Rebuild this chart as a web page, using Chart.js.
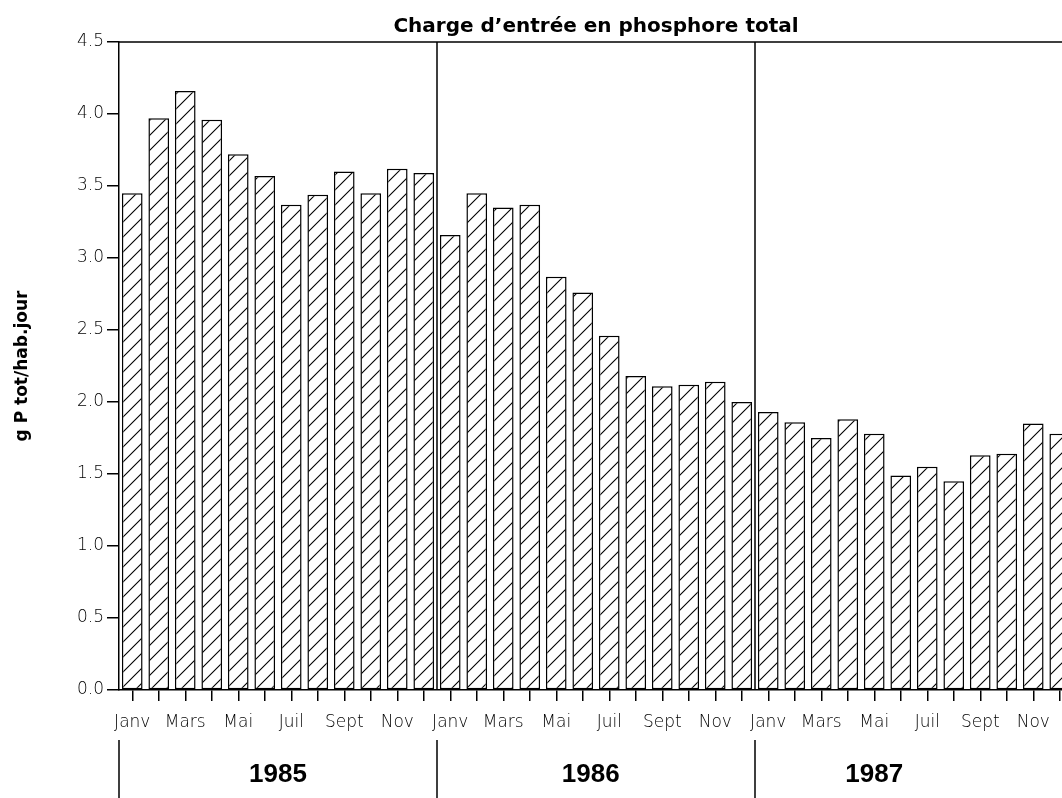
<!DOCTYPE html>
<html>
<head>
<meta charset="utf-8">
<script src="https://cdn.jsdelivr.net/npm/chart.js@4.4.1/dist/chart.umd.min.js"></script>
<style>
  html, body { margin: 0; padding: 0; background: #fff; overflow: hidden; }
  canvas { display: block; }
</style>
</head>
<body>
<canvas id="myChart" width="1080" height="798"></canvas>
<script>
// données (g P tot / hab.jour)
const years = ['1985', '1986', '1987'];
const months = ['Janv', 'Févr', 'Mars', 'Avr', 'Mai', 'Juin', 'Juil', 'Août', 'Sept', 'Oct', 'Nov', 'Déc'];
const values1985 = [3.45, 3.97, 4.16, 3.96, 3.72, 3.57, 3.37, 3.44, 3.60, 3.45, 3.62, 3.59];
const values1986 = [3.16, 3.45, 3.35, 3.37, 2.87, 2.76, 2.46, 2.18, 2.11, 2.12, 2.14, 2.00];
const values1987 = [1.93, 1.86, 1.75, 1.88, 1.78, 1.49, 1.55, 1.45, 1.63, 1.64, 1.85, 1.78];
const shownMonths = ['Janv', 'Mars', 'Mai', 'Juil', 'Sept', 'Nov'];

const labels = [];
years.forEach(y => months.forEach(m => labels.push(m + ' ' + y)));
const values = [...values1985, ...values1986, ...values1987];

const canvas = document.getElementById('myChart');
const ctx = canvas.getContext('2d');

// motif hachuré "/"
function hatch() {
    const c = document.createElement('canvas');
    c.width = 15;
    c.height = 15;
    const g = c.getContext('2d');
    g.fillStyle = '#fff';
    g.fillRect(0, 0, 15, 15);
    g.strokeStyle = '#000';
    g.lineWidth = 1.1;
    g.beginPath();
    g.moveTo(0, 15); g.lineTo(15, 0);
    g.moveTo(-2, 2); g.lineTo(2, -2);
    g.moveTo(13, 17); g.lineTo(17, 13);
    g.stroke();
    return ctx.createPattern(c, 'repeat');
}

// cadre du haut, séparations et années
const yearFrame = {
    id: 'yearFrame',
    afterDraw(chart) {
        const { ctx, chartArea: a, scales: { x } } = chart;
        ctx.save();
        ctx.strokeStyle = '#000';
        ctx.lineWidth = 1.5;
        ctx.beginPath();
        ctx.moveTo(a.left, a.top);
        ctx.lineTo(a.right, a.top);
        years.forEach((y, i) => {
            const bx = i === 0 ? a.left : x.getPixelForValue(i * 12 - 0.5);
            if (i > 0) {
                ctx.moveTo(bx, a.top);
                ctx.lineTo(bx, a.bottom);
            }
            ctx.moveTo(bx, 740);
            ctx.lineTo(bx, chart.height);
        });
        ctx.stroke();

        ctx.fillStyle = '#000';
        ctx.font = 'bold 26px "Liberation Sans", Arial, sans-serif';
        ctx.textAlign = 'center';
        ctx.textBaseline = 'middle';
        const centres = [5.5, 17.3, 28];
        years.forEach((y, i) => {
            ctx.fillText(y, x.getPixelForValue(centres[i]), 775);
        });
        ctx.restore();
    }
};

new Chart(ctx, {
    type: 'bar',
    data: {
        labels: labels,
        datasets: [{
            data: values,
            backgroundColor: hatch(),
            borderColor: '#000',
            borderWidth: 1.5,
            borderSkipped: false,
            barPercentage: 0.78,
            categoryPercentage: 1.0,
        }],
    },
    options: {
        responsive: false,
        animation: false,
        layout: { padding: { top: 0, right: 7, bottom: 0, left: 0 } },
        plugins: {
            legend: { display: false },
            tooltip: { enabled: false },
            title: {
                display: true,
                text: 'Charge d\u2019entrée en phosphore total',
                color: '#000',
                font: { family: '"DejaVu Sans", sans-serif', size: 20, weight: 'bold' },
                padding: { top: 15, bottom: 3 },
                fullSize: false,
            },
        },
        scales: {
            x: {
                grid: { display: true, offset: false, drawOnChartArea: false, drawTicks: true, tickLength: 11, color: '#000', lineWidth: 1.5 },
                border: { display: true, color: '#000', width: 1.5 },
                ticks: {
                    autoSkip: false,
                    maxRotation: 0,
                    padding: 11,
                    color: '#000',
                    font: { family: '"DejaVu Sans", sans-serif', size: 17, weight: 200 },
                    callback: (v, i) => (i % 2 === 0 ? shownMonths[(i % 12) / 2] : ''),
                },
                afterFit: (scale) => { scale.height = 108; },
            },
            y: {
                min: 0,
                max: 4.5,
                grid: { display: true, drawOnChartArea: false, drawTicks: true, tickLength: 12, color: '#000', lineWidth: 1.5 },
                border: { display: true, color: '#000', width: 1.5 },
                ticks: {
                    stepSize: 0.5,
                    padding: 3,
                    color: '#000',
                    font: { family: '"DejaVu Sans", sans-serif', size: 17, weight: 200 },
                    callback: (v) => v.toFixed(1),
                },
                title: {
                    display: true,
                    text: 'g P tot/hab.jour',
                    color: '#000',
                    font: { family: '"DejaVu Sans", sans-serif', size: 17, weight: 'bold' },
                    padding: { top: 12, bottom: 0 },
                },
                afterFit: (scale) => { scale.width = 119; },
            },
        },
    },
    plugins: [yearFrame],
});
</script>
</body>
</html>
